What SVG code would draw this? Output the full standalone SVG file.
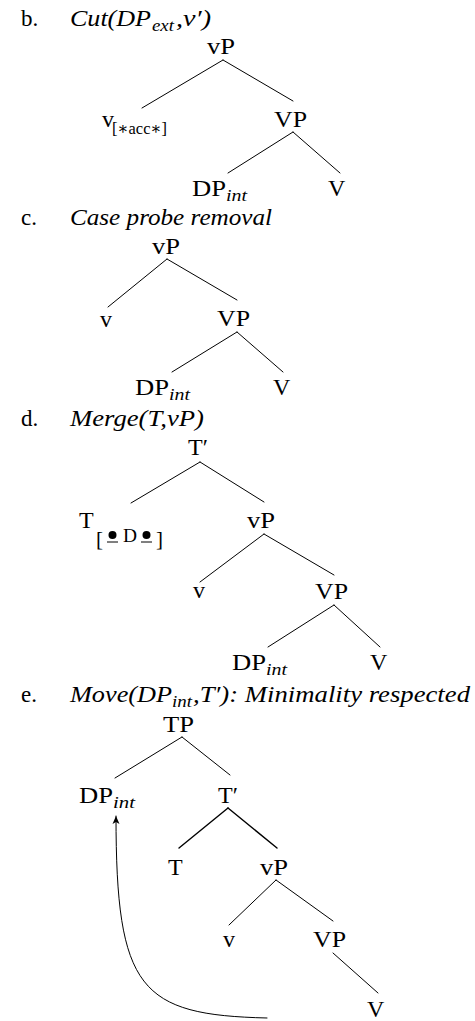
<svg xmlns="http://www.w3.org/2000/svg" width="475" height="1021" viewBox="0 0 475 1021">
<style>
text{font-family:"Liberation Serif","Times New Roman","DejaVu Serif",serif;fill:#000}
.n{font-size:24px}
.lab{font-size:23px}
.ti{font-size:24px;font-style:italic}
.sub{font-size:17px;font-style:italic}
.sf{font-size:17px}
.e{stroke:#000;stroke-width:1;fill:none;stroke-linecap:round}
.th{stroke-width:1.4}
</style>
<defs>
<marker id="ah" markerWidth="10" markerHeight="8" refX="8" refY="4" orient="auto" markerUnits="userSpaceOnUse">
<path d="M0,0.5 L8,4 L0,7.5 L2,4 z" fill="#000"/>
</marker>
</defs>
<rect width="475" height="1021" fill="#fff"/>

<!-- b -->
<g id="title-b">
<text class="lab" x="21" y="26">b.</text>
<text class="ti" x="70" y="26" textLength="81" lengthAdjust="spacingAndGlyphs">Cut(DP</text>
<text class="sub" x="152" y="31" textLength="22" lengthAdjust="spacingAndGlyphs">ext</text>
<text class="ti" x="176" y="26" textLength="35" lengthAdjust="spacingAndGlyphs">,v′)</text>
</g>
<g id="b-vP"><text class="n" x="207" y="54" textLength="28" lengthAdjust="spacingAndGlyphs">vP</text></g>
<g id="b-v"><text class="n" x="102" y="127">v</text><text class="sf" x="112" y="134" textLength="55" lengthAdjust="spacingAndGlyphs">[∗acc∗]</text></g>
<g id="b-VP"><text class="n" x="274" y="127" textLength="33" lengthAdjust="spacingAndGlyphs">VP</text></g>
<g id="b-DP"><text class="n" x="192" y="196" textLength="34" lengthAdjust="spacingAndGlyphs">DP</text><text class="sub" x="226" y="201" textLength="21" lengthAdjust="spacingAndGlyphs">int</text></g>
<g id="b-V"><text class="n" x="328" y="196">V</text></g>

<!-- c -->
<g id="title-c">
<text class="lab" x="21" y="225">c.</text>
<text class="ti" x="70" y="225" textLength="202" lengthAdjust="spacingAndGlyphs">Case probe removal</text>
</g>
<g id="c-vP"><text class="n" x="152" y="254" textLength="28" lengthAdjust="spacingAndGlyphs">vP</text></g>
<g id="c-v"><text class="n" x="100" y="327">v</text></g>
<g id="c-VP"><text class="n" x="217" y="326" textLength="33" lengthAdjust="spacingAndGlyphs">VP</text></g>
<g id="c-DP"><text class="n" x="135" y="395" textLength="34" lengthAdjust="spacingAndGlyphs">DP</text><text class="sub" x="169" y="400" textLength="21" lengthAdjust="spacingAndGlyphs">int</text></g>
<g id="c-V"><text class="n" x="273" y="395">V</text></g>

<!-- d -->
<g id="title-d">
<text class="lab" x="21" y="426">d.</text>
<text class="ti" x="70" y="426" textLength="134" lengthAdjust="spacingAndGlyphs">Merge(T,vP)</text>
</g>
<g id="d-Tbar"><text class="n" x="188" y="455">T′</text></g>
<g id="d-T">
<text class="n" x="79" y="528">T</text>
<text x="96" y="546" style="font-size:21px">[</text>
<circle cx="112.5" cy="535" r="4" fill="#000"/>
<line x1="107" y1="542" x2="118" y2="542" stroke="#000" stroke-width="1"/>
<text x="123" y="542" style="font-size:18px" textLength="14" lengthAdjust="spacingAndGlyphs">D</text>
<circle cx="146.5" cy="535" r="4" fill="#000"/>
<line x1="141" y1="542" x2="152" y2="542" stroke="#000" stroke-width="1"/>
<text x="156" y="546" style="font-size:21px">]</text>
</g>
<g id="d-vP"><text class="n" x="247" y="528" textLength="28" lengthAdjust="spacingAndGlyphs">vP</text></g>
<g id="d-v"><text class="n" x="193" y="598">v</text></g>
<g id="d-VP"><text class="n" x="315" y="599" textLength="33" lengthAdjust="spacingAndGlyphs">VP</text></g>
<g id="d-DP"><text class="n" x="232" y="670" textLength="34" lengthAdjust="spacingAndGlyphs">DP</text><text class="sub" x="266" y="675" textLength="21" lengthAdjust="spacingAndGlyphs">int</text></g>
<g id="d-V"><text class="n" x="370" y="670">V</text></g>

<!-- e -->
<g id="title-e">
<text class="lab" x="21" y="702">e.</text>
<text class="ti" x="70" y="702" textLength="102" lengthAdjust="spacingAndGlyphs">Move(DP</text>
<text class="sub" x="172" y="707" textLength="20" lengthAdjust="spacingAndGlyphs">int</text>
<text class="ti" x="193" y="702" textLength="277" lengthAdjust="spacingAndGlyphs">,T′): Minimality respected</text>
</g>
<g id="e-TP"><text class="n" x="163" y="732" textLength="31" lengthAdjust="spacingAndGlyphs">TP</text></g>
<g id="e-DP"><text class="n" x="79" y="803" textLength="34" lengthAdjust="spacingAndGlyphs">DP</text><text class="sub" x="113" y="808" textLength="22" lengthAdjust="spacingAndGlyphs">int</text></g>
<g id="e-Tbar"><text class="n" x="218" y="803">T′</text></g>
<g id="e-T"><text class="n" x="168" y="875">T</text></g>
<g id="e-vP"><text class="n" x="260" y="875" textLength="28" lengthAdjust="spacingAndGlyphs">vP</text></g>
<g id="e-v"><text class="n" x="223" y="947">v</text></g>
<g id="e-VP"><text class="n" x="313" y="947" textLength="33" lengthAdjust="spacingAndGlyphs">VP</text></g>
<g id="e-V"><text class="n" x="367" y="1017">V</text></g>

<g id="connectors">
<line class="e" x1="223" y1="60" x2="142" y2="108"/>
<line class="e" x1="223" y1="60" x2="293" y2="101"/>
<line class="e" x1="293" y1="132" x2="228" y2="173"/>
<line class="e" x1="293" y1="132" x2="340" y2="173"/>

<line class="e" x1="167" y1="259" x2="108" y2="307"/>
<line class="e" x1="167" y1="259" x2="237" y2="300"/>
<line class="e" x1="237" y1="332" x2="172" y2="372"/>
<line class="e" x1="237" y1="332" x2="283" y2="372"/>

<line class="e" x1="200" y1="462" x2="131" y2="503"/>
<line class="e" x1="200" y1="462" x2="264" y2="502"/>
<line class="e" x1="264" y1="534" x2="200" y2="582"/>
<line class="e" x1="264" y1="534" x2="334" y2="575"/>
<line class="e" x1="334" y1="605" x2="268" y2="647"/>
<line class="e" x1="334" y1="605" x2="380" y2="647"/>

<line class="e" x1="182" y1="737" x2="115" y2="778"/>
<line class="e" x1="182" y1="737" x2="230" y2="775"/>
<line class="e th" x1="228" y1="808" x2="179" y2="848"/>
<line class="e th" x1="228" y1="808" x2="277" y2="848"/>
<line class="e" x1="276" y1="880" x2="229" y2="925"/>
<line class="e" x1="276" y1="880" x2="333" y2="921"/>
<line class="e" x1="333" y1="953" x2="378" y2="993"/>

<path class="e" d="M267,1018 C140,1015 116,990 116,816" marker-end="url(#ah)"/>
</g>
</svg>
